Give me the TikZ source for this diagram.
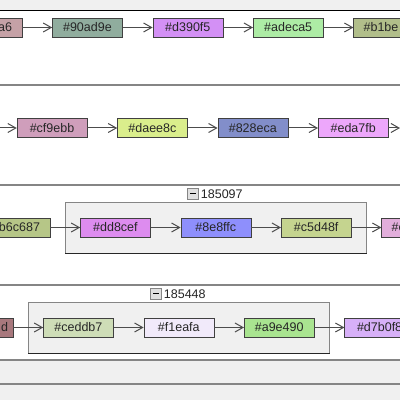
\documentclass[tikz,border=0pt]{standalone}
\usepackage{fontspec}
\setmainfont{Liberation Sans}
\usepackage{xcolor}
\usetikzlibrary{arrows.meta,positioning,fit,backgrounds}
\definecolor{bandgray}{HTML}{F0F0F0}
\definecolor{linegray}{HTML}{858585}
\definecolor{ca6}{HTML}{C5A1A6}
\definecolor{c90ad9e}{HTML}{90AD9E}
\definecolor{cd390f5}{HTML}{D390F5}
\definecolor{cadeca5}{HTML}{ADECA5}
\definecolor{cb1be}{HTML}{B1BE8A}
\definecolor{ccf9ebb}{HTML}{CF9EBB}
\definecolor{cdaee8c}{HTML}{DAEE8C}
\definecolor{c828eca}{HTML}{828ECA}
\definecolor{ceda7fb}{HTML}{EDA7FB}
\definecolor{cb6c687}{HTML}{B6C687}
\definecolor{cdd8cef}{HTML}{DD8CEF}
\definecolor{c8e8ffc}{HTML}{8E8FFC}
\definecolor{cc5d48f}{HTML}{C5D48F}
\definecolor{ce}{HTML}{E2AEDB}
\definecolor{cd}{HTML}{A8787D}
\definecolor{cceddb7}{HTML}{CEDDB7}
\definecolor{cf1eafa}{HTML}{F1EAFA}
\definecolor{ca9e490}{HTML}{A9E490}
\definecolor{cd7b0f8}{HTML}{D7B0F8}

\begin{document}
\begin{tikzpicture}[
    x=1pt, y=1pt,
    node distance=30pt,
    box/.style={draw=black!75, minimum width=70pt, minimum height=19pt, text width=50pt,
      inner xsep=10pt, inner ysep=2pt, align=center, text=black!85,
      font=\fontsize{12.5pt}{14pt}\selectfont},
    cutleft/.style={box, align=right},
    cutright/.style={box, align=left},
    group/.style={draw=linegray, fill=bandgray, inner xsep=15pt, inner ysep=16pt},
    glabel/.style={inner sep=1pt, text=black!85, font=\fontsize{12.5pt}{14pt}\selectfont},
    toggle/.style={draw=linegray, fill=black!12, minimum size=11pt, inner sep=0pt,
      path picture={\draw[black, line width=1pt]
        ([xshift=2.5pt]path picture bounding box.west) -- ([xshift=-2.5pt]path picture bounding box.east);}},
    flow/.style={-{Straight Barb[length=8pt,width=9pt]}, black!70, line width=1pt},
    sep/.style={linegray, line width=2pt}]
  \useasboundingbox (0,0) rectangle (400,400);
  \clip (0,0) rectangle (400,400);
  \begin{scope}[on background layer]
    \fill[white] (0,0) rectangle (400,400);
    \fill[bandgray] (0,390) rectangle (400,400);
    \fill[bandgray] (0,0) rectangle (400,40);
    \draw[black] (0,390) -- (400,390);
    \draw[sep] (0,315) -- (400,315);
    \draw[sep] (0,215) -- (400,215);
    \draw[sep] (0,115) -- (400,115);
    \draw[sep] (0,40) -- (400,40);
    \draw[sep] (0,16) -- (400,16);
  \end{scope}

  \node[cutleft, fill=ca6] (na6) at (-13,372.5) {a6};
  \node[box, fill=c90ad9e, right=of na6] (n90ad9e) {\#90ad9e};
  \node[box, fill=cd390f5, right=of n90ad9e] (nd390f5) {\#d390f5};
  \node[box, fill=cadeca5, right=of nd390f5] (nadeca5) {\#adeca5};
  \node[cutright, fill=cb1be, right=of nadeca5] (nb1be) {\#b1be};
  \draw[flow] (na6) -- (n90ad9e);
  \draw[flow] (n90ad9e) -- (nd390f5);
  \draw[flow] (nd390f5) -- (nadeca5);
  \draw[flow] (nadeca5) -- (nb1be);

  \coordinate (inrow2) at (0,272);
  \coordinate (outrow2) at (400,272);
  \node[box, fill=ccf9ebb] (ncf9ebb) at (52,272) {\#cf9ebb};
  \node[box, fill=cdaee8c, right=of ncf9ebb] (ndaee8c) {\#daee8c};
  \node[box, fill=c828eca, right=of ndaee8c] (n828eca) {\#828eca};
  \node[box, fill=ceda7fb, right=of n828eca] (neda7fb) {\#eda7fb};
  \draw[flow] (inrow2) -- (ncf9ebb);
  \draw[flow] (ncf9ebb) -- (ndaee8c);
  \draw[flow] (ndaee8c) -- (n828eca);
  \draw[flow] (n828eca) -- (neda7fb);
  \draw[flow] (neda7fb) -- (outrow2);

  \node[cutleft, fill=cb6c687] (nb6c687) at (15,172.5) {b6c687};
  \node[box, fill=cdd8cef, right=of nb6c687] (ndd8cef) {\#dd8cef};
  \node[box, fill=c8e8ffc, right=of ndd8cef] (n8e8ffc) {\#8e8ffc};
  \node[box, fill=cc5d48f, right=of n8e8ffc] (nc5d48f) {\#c5d48f};
  \node[cutright, fill=ce, right=of nc5d48f] (ne) {\#e};
  \begin{scope}[on background layer]
    \node[group, fit=(ndd8cef)(n8e8ffc)(nc5d48f)] (grp185097) {};
    \draw[black!85] (grp185097.south west) -- (grp185097.south east);
  \end{scope}
  \node[glabel, above=2pt of grp185097.north, xshift=6pt] (lbl185097) {185097};
  \node[toggle, left=1pt of lbl185097] (tgl185097) {};
  \draw[flow] (nb6c687) -- (ndd8cef);
  \draw[flow] (ndd8cef) -- (n8e8ffc);
  \draw[flow] (n8e8ffc) -- (nc5d48f);
  \draw[flow] (nc5d48f) -- (ne);

  \node[cutleft, fill=cd, text width=60pt, inner xsep=5pt] (nd) at (-22,72.5) {d};
  \node[box, fill=cceddb7, right=of nd] (nceddb7) {\#ceddb7};
  \node[box, fill=cf1eafa, right=of nceddb7] (nf1eafa) {\#f1eafa};
  \node[box, fill=ca9e490, right=of nf1eafa] (na9e490) {\#a9e490};
  \node[box, fill=cd7b0f8, right=of na9e490] (nd7b0f8) {\#d7b0f8};
  \begin{scope}[on background layer]
    \node[group, fit=(nceddb7)(nf1eafa)(na9e490)] (grp185448) {};
    \draw[black!85] (grp185448.south west) -- (grp185448.south east);
  \end{scope}
  \node[glabel, above=2pt of grp185448.north, xshift=6pt] (lbl185448) {185448};
  \node[toggle, left=1pt of lbl185448] (tgl185448) {};
  \draw[flow] (nd) -- (nceddb7);
  \draw[flow] (nceddb7) -- (nf1eafa);
  \draw[flow] (nf1eafa) -- (na9e490);
  \draw[flow] (na9e490) -- (nd7b0f8);
\end{tikzpicture}
\end{document}
